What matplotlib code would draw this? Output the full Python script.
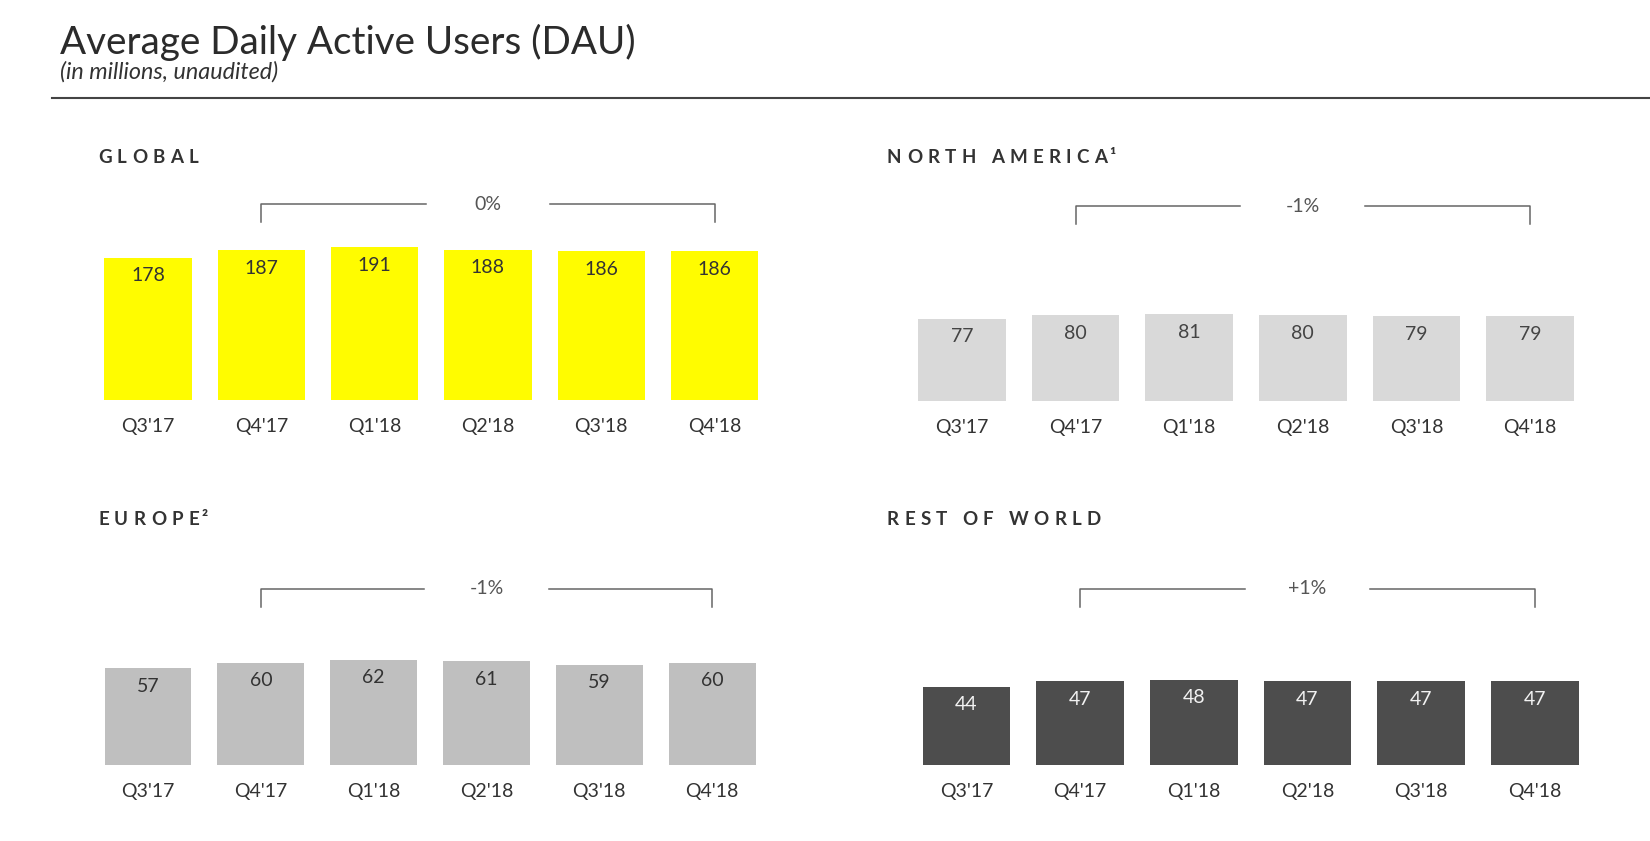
import matplotlib
matplotlib.use("Agg")
import matplotlib.pyplot as plt

# data
quarters = ["Q3'17", "Q4'17", "Q1'18", "Q2'18", "Q3'18", "Q4'18"]
global_dau = [178, 187, 191, 188, 186, 186]
na_dau = [77, 80, 81, 80, 79, 79]
europe_dau = [57, 60, 62, 61, 59, 60]
row_dau = [44, 47, 48, 47, 47, 47]
titles = ["GLOBAL", "NORTH AMERICA\u00b9", "EUROPE\u00b2", "REST OF WORLD"]
changes = ["0%", "-1%", "-1%", "+1%"]

W, H = 1650, 841
FONT = ["Lato", "DejaVu Sans"]

fig = plt.figure(figsize=(W / 100, H / 100), dpi=100)
fig.patch.set_facecolor("white")
renderer = fig.canvas.get_renderer()


def text_w(s, **kw):
    t = fig.text(0, 0, s, **kw)
    w = t.get_window_extent(renderer=renderer).width
    t.remove()
    return w


def tracked(x_px, y_px, s, track, **kw):
    # letter-spaced header, one char at a time
    for i, ch in enumerate(s):
        if ch == " ":
            continue
        n = i - 0.6 if ch in "\u00b9\u00b2" else i
        left = text_w(s[:i + 1], **kw) - text_w(ch, **kw) + n * track
        fig.text((x_px + left) / W, 1 - y_px / H, ch, ha="left", va="baseline", **kw)


# title block
fig.text(60 / W, 1 - 54 / H, "Average Daily Active Users (DAU)", family=FONT,
         fontsize=27.8, color="#2b2b2b", va="baseline", ha="left")
fig.text(60 / W, 1 - 79 / H, "(in millions, unaudited)", family=FONT,
         fontsize=16.8, style="italic", color="#333333",
         va="baseline", ha="left")
fig.add_artist(plt.Line2D([52 / W, 1.0], [1 - 98 / H, 1 - 98 / H],
                          color="#444444", lw=1.5, transform=fig.transFigure))

# panel layout: left, width, top, bottom (pixels), px per unit, header pos
panels = [
    (global_dau, "#FFFC00", "#333333", 91.3, 680, 204, 400, 0.80, (98, 163)),
    (na_dau, "#D9D9D9", "#444444", 905, 682, 206, 401, 1.07, (887, 163)),
    (europe_dau, "#BFBFBF", "#333333", 91.6, 677, 589, 765, 1.70, (98, 525)),
    (row_dau, "#4D4D4D", "#F2F2F2", 909.6, 682, 589, 765, 1.78, (887, 525)),
]

for k, (vals, col, tcol, left, width, top, bottom, scale, hpos) in enumerate(panels):
    h = bottom - top
    ax = fig.add_axes([left / W, 1 - bottom / H, width / W, h / H])
    x = list(range(len(quarters)))
    ax.bar(x, vals, width=0.77, color=col)
    ax.set_xlim(-0.5, 5.5)
    ax.set_ylim(0, h / scale)
    ax.axis("off")

    for i, v in enumerate(vals):
        ax.annotate(str(v), (i, v), xytext=(0, -18), textcoords="offset pixels",
                    ha="center", va="center", fontsize=14, family=FONT, color=tcol)
        ax.annotate(quarters[i], (i, 0), xytext=(0, -26), textcoords="offset pixels",
                    ha="center", va="center", fontsize=14, family=FONT,
                    color="#333333", annotation_clip=False)

    # bracket from Q4'17 to Q4'18
    tr = ax.get_xaxis_transform()
    tick = 1 - 18 / h
    gap = 0.55
    ax.plot([1, 1, 3 - gap], [tick, 1, 1], color="#666666", lw=1.1,
            transform=tr, clip_on=False)
    ax.plot([3 + gap, 5, 5], [1, 1, tick], color="#666666", lw=1.1,
            transform=tr, clip_on=False)
    ax.text(3, 1, changes[k], transform=tr, ha="center", va="center",
            fontsize=14, family=FONT, color="#555555")

    tracked(hpos[0], hpos[1], titles[k], 5.3, family=FONT, fontsize=13.5,
            weight="bold", color="#333333")

fig.savefig("out.png", dpi=100, facecolor="white")
